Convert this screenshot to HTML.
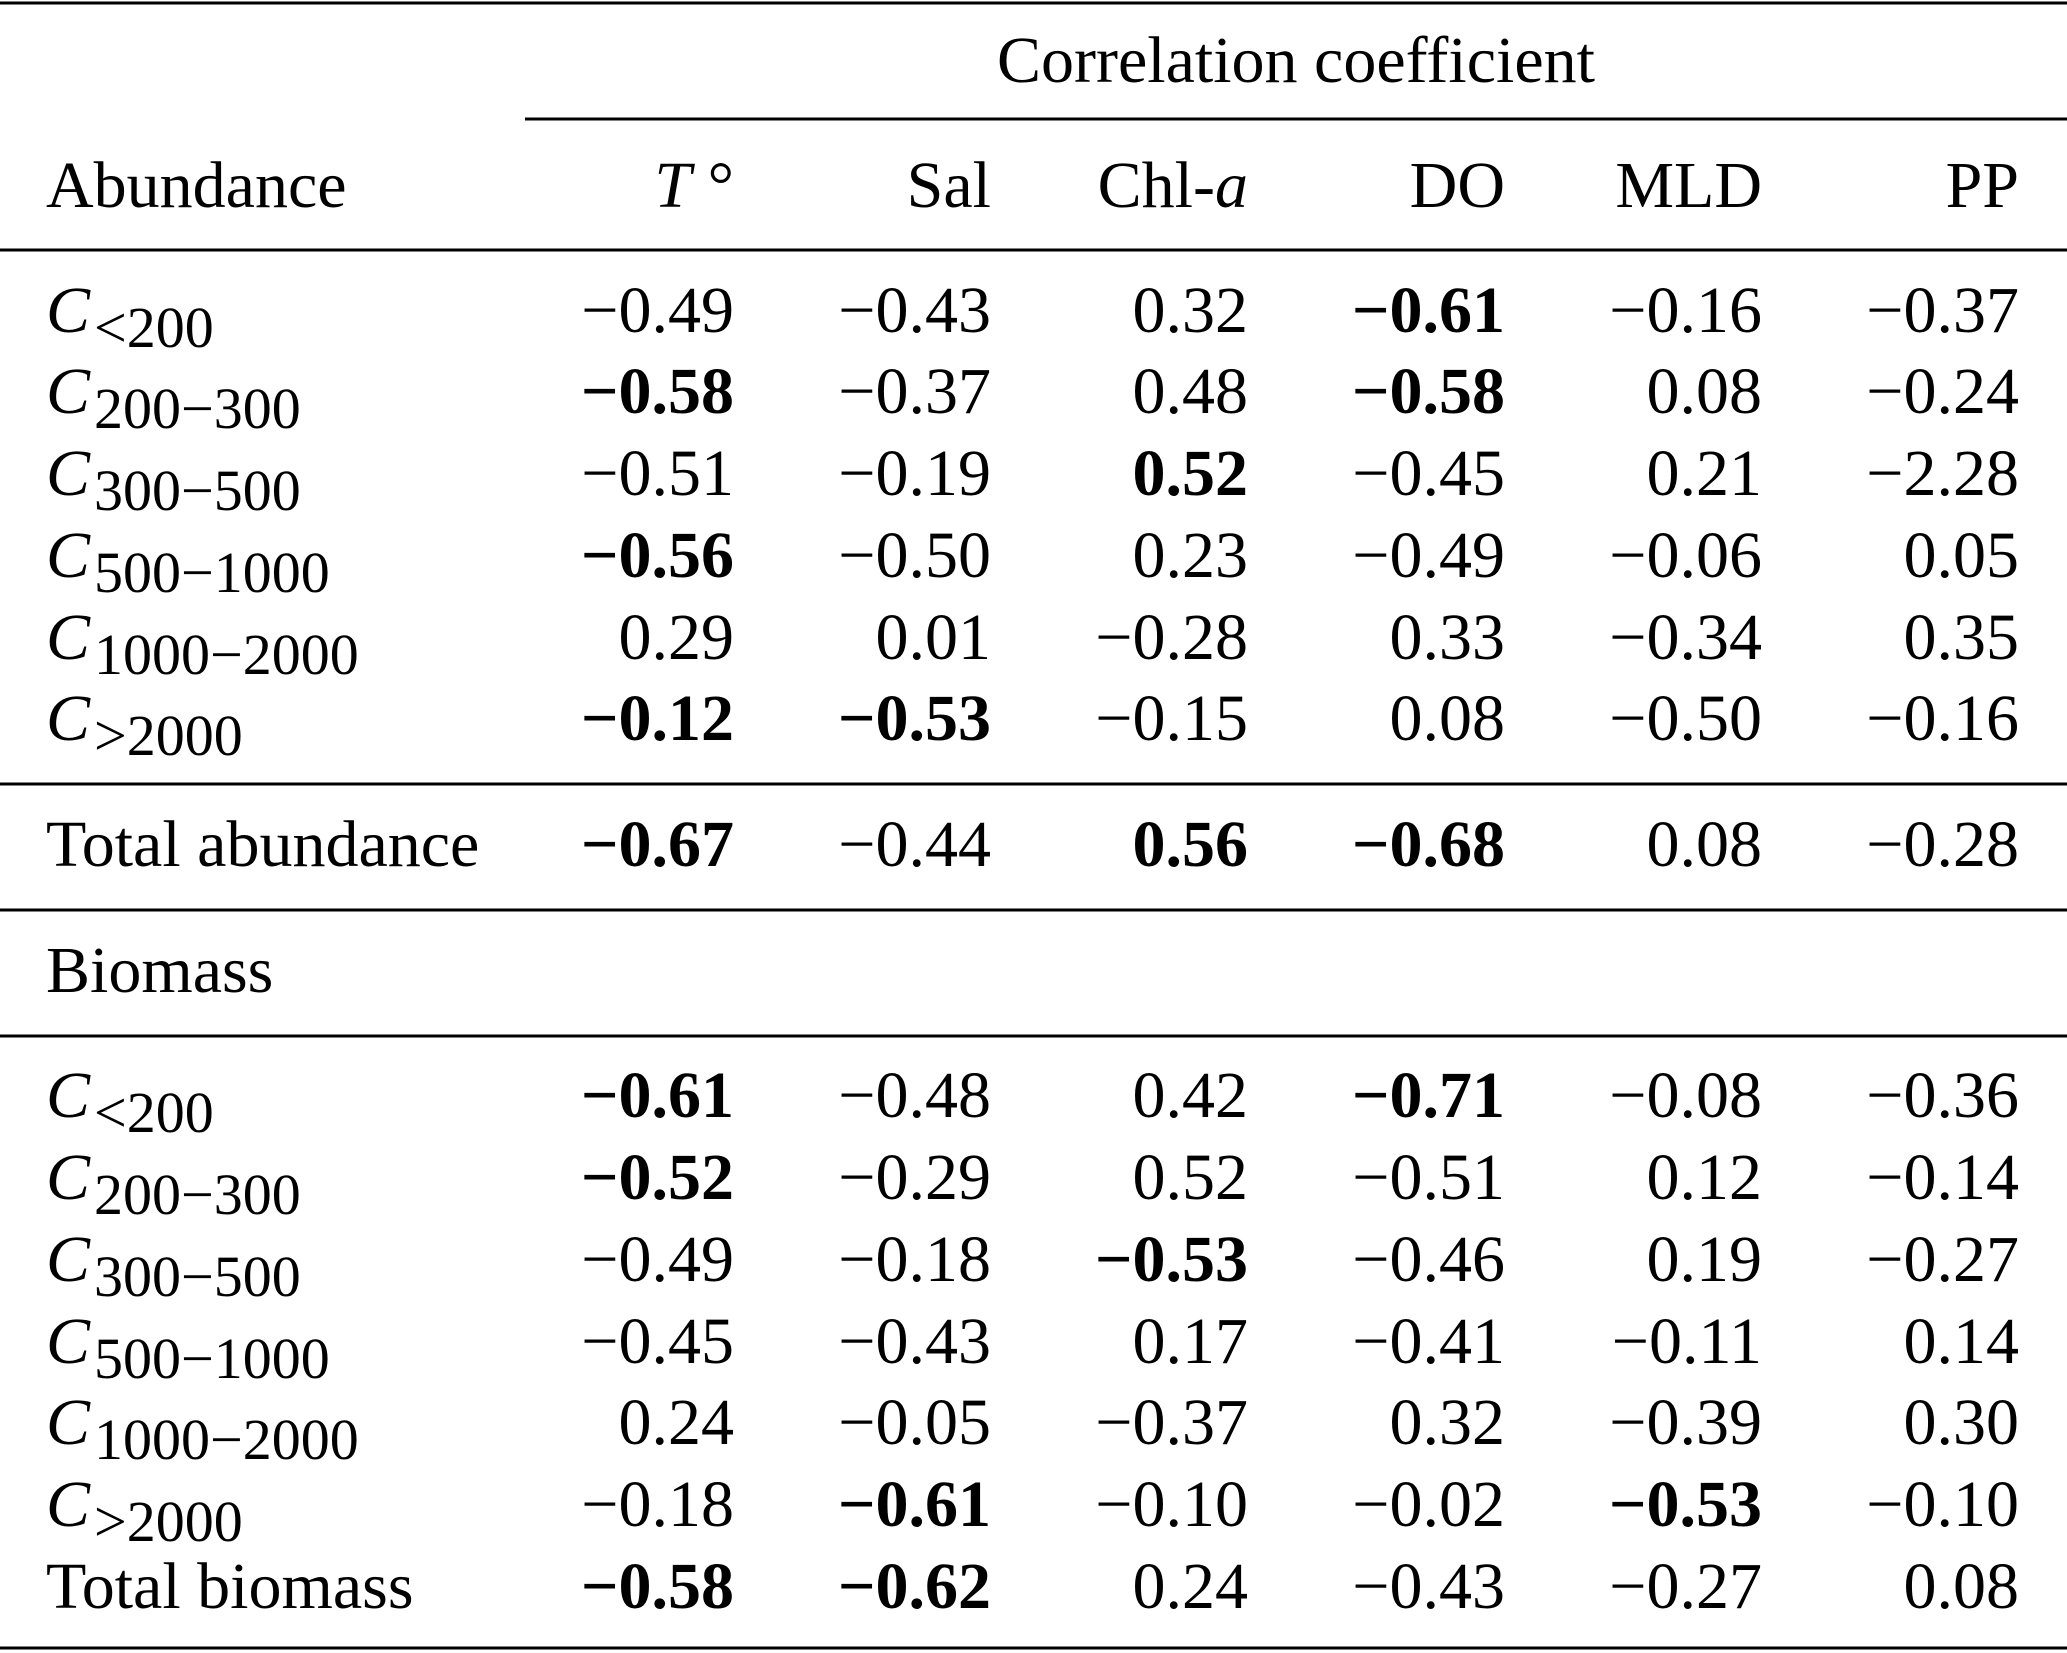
<!DOCTYPE html>
<html><head><meta charset="utf-8"><style>
html,body{margin:0;padding:0;background:#fff}
svg{display:block}
text{font-family:"Liberation Serif",serif;font-size:66px;fill:#000}
</style></head><body>
<svg id="tbl" width="2067" height="1653" viewBox="0 0 2067 1653" xmlns="http://www.w3.org/2000/svg">
<line x1="0" x2="2067" y1="3" y2="3" stroke="#000" stroke-width="3"/>
<text x="1296" y="82" text-anchor="middle">Correlation coefficient</text>
<line x1="525" x2="2067" y1="119" y2="119" stroke="#000" stroke-width="3"/>
<text x="46" y="207">Abundance</text>
<line x1="0" x2="2067" y1="250" y2="250" stroke="#000" stroke-width="3"/>
<line x1="0" x2="2067" y1="784" y2="784" stroke="#000" stroke-width="3"/>
<line x1="0" x2="2067" y1="910" y2="910" stroke="#000" stroke-width="3"/>
<text x="46" y="992">Biomass</text>
<line x1="0" x2="2067" y1="1036" y2="1036" stroke="#000" stroke-width="3"/>
<line x1="0" x2="2067" y1="1648" y2="1648" stroke="#000" stroke-width="3"/>
</svg>
<script>
const columns = ['T°','Sal','Chl-a','DO','MLD','PP'];
const rowLabels = [['C','<200'],['C','200−300'],['C','300−500'],['C','500−1000'],['C','1000−2000'],['C','>2000'],['Total abundance',''],
['C','<200'],['C','200−300'],['C','300−500'],['C','500−1000'],['C','1000−2000'],['C','>2000'],['Total biomass','']];
const values = [
['−0.49','−0.43','0.32','−0.61','−0.16','−0.37'],
['−0.58','−0.37','0.48','−0.58','0.08','−0.24'],
['−0.51','−0.19','0.52','−0.45','0.21','−2.28'],
['−0.56','−0.50','0.23','−0.49','−0.06','0.05'],
['0.29','0.01','−0.28','0.33','−0.34','0.35'],
['−0.12','−0.53','−0.15','0.08','−0.50','−0.16'],
['−0.67','−0.44','0.56','−0.68','0.08','−0.28'],
['−0.61','−0.48','0.42','−0.71','−0.08','−0.36'],
['−0.52','−0.29','0.52','−0.51','0.12','−0.14'],
['−0.49','−0.18','−0.53','−0.46','0.19','−0.27'],
['−0.45','−0.43','0.17','−0.41','−0.11','0.14'],
['0.24','−0.05','−0.37','0.32','−0.39','0.30'],
['−0.18','−0.61','−0.10','−0.02','−0.53','−0.10'],
['−0.58','−0.62','0.24','−0.43','−0.27','0.08']];
const bold = [
[0,0,0,1,0,0],[1,0,0,1,0,0],[0,0,1,0,0,0],[1,0,0,0,0,0],[0,0,0,0,0,0],[1,1,0,0,0,0],[1,0,1,1,0,0],
[1,0,0,1,0,0],[1,0,0,0,0,0],[0,0,1,0,0,0],[0,0,0,0,0,0],[0,0,0,0,0,0],[0,1,0,0,1,0],[1,1,0,0,0,0]];
const colRight=[734,991,1248,1505,1762,2019];
const rowCenter=[310,391,473,555,637,718,844,1095,1177,1259,1341,1422,1504,1586];
const NS='http://www.w3.org/2000/svg';
const svg=document.getElementById('tbl');
function mk(tag){return document.createElementNS(NS,tag);}
columns.forEach((c,i)=>{
  const t=mk('text');
  
  
  t.setAttribute('x',colRight[i]);t.setAttribute('y',207);t.setAttribute('text-anchor','end');
  if(c==='T°'){const a=mk('tspan');a.setAttribute('font-style','italic');a.textContent='T';t.appendChild(a);t.appendChild(document.createTextNode(' °'));}
  else if(c==='Chl-a'){t.appendChild(document.createTextNode('Chl-'));const a=mk('tspan');a.setAttribute('font-style','italic');a.textContent='a';t.appendChild(a);}
  else t.textContent=c;
  svg.appendChild(t);
});
rowLabels.forEach((r,i)=>{
  const y=rowCenter[i]+22;
  const t=mk('text');
  
  
  t.setAttribute('x',46);t.setAttribute('y',y);
  if(r[1]){
    const a=mk('tspan');a.setAttribute('font-style','italic');a.textContent=r[0];t.appendChild(a);
    const b=mk('tspan');b.setAttribute('font-size','58');b.setAttribute('dy','15');b.setAttribute('dx','4');b.textContent=r[1];t.appendChild(b);
  } else t.textContent=r[0];
  svg.appendChild(t);
  values[i].forEach((v,j)=>{
    const c=mk('text');
    
    
    c.setAttribute('x',colRight[j]);c.setAttribute('y',y);c.setAttribute('text-anchor','end');
    if(bold[i][j])c.setAttribute('font-weight','bold');
    c.textContent=v;svg.appendChild(c);
  });
});
</script>
</body></html>
